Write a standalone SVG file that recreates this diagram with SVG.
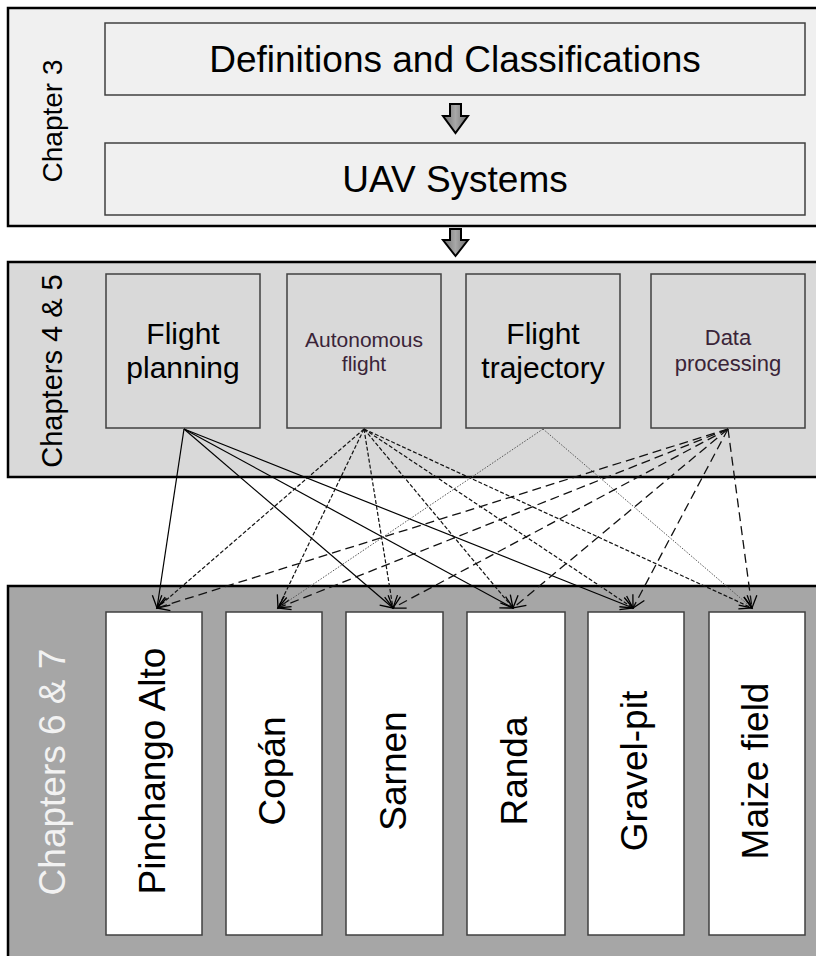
<svg xmlns="http://www.w3.org/2000/svg" width="816" height="956" viewBox="0 0 816 956">
<defs>
<linearGradient id="ag" x1="0" y1="0" x2="1" y2="0">
<stop offset="0" stop-color="#6e6e6e"/><stop offset="0.5" stop-color="#a8a8a8"/><stop offset="1" stop-color="#6e6e6e"/>
</linearGradient>
<marker id="ah" markerUnits="userSpaceOnUse" markerWidth="16" markerHeight="16" viewBox="0 0 16 16" refX="13" refY="8" orient="auto">
<path d="M1,1.5 L13,8 L1,14.5" fill="none" stroke="#000" stroke-width="1.3"/>
</marker>
</defs>
<style>
.panel{stroke:#000;stroke-width:2.5}
.box{stroke:#404040;stroke-width:1.5}
.t{font-family:"Liberation Sans",Arial,sans-serif;text-anchor:middle}
.c{fill:none;marker-end:url(#ah)}
.fp{stroke:#000;stroke-width:1.2}
.au{stroke:#111;stroke-width:1.2;stroke-dasharray:4 2}
.ft{stroke:#555;stroke-width:1;stroke-dasharray:1.5 1.5}
.dp{stroke:#111;stroke-width:1.3;stroke-dasharray:9 5}
.bar{fill:url(#ag);stroke:#000;stroke-width:2}
</style>
<rect width="816" height="956" fill="#fff"/>

<g id="chapter3">
<rect class="panel" x="8" y="8" width="830" height="218" fill="#f0f0f0"/>
<text class="t" font-size="28" transform="translate(62,121) rotate(-90)">Chapter 3</text>
</g>
<g id="chapters45">
<rect class="panel" x="8" y="262" width="830" height="215" fill="#d9d9d9"/>
<text class="t" font-size="29" transform="translate(62,371) rotate(-90)">Chapters 4 &amp; 5</text>
</g>
<g id="chapters67">
<rect class="panel" x="8" y="586" width="830" height="390" fill="#a6a6a6"/>
<text class="t" font-size="37" fill="#f2f2f2" transform="translate(65,772) rotate(-90)">Chapters 6 &amp; 7</text>
</g>

<g id="definitions">
<rect class="box" x="105" y="23" width="700" height="72" fill="#f0f0f0"/>
<text class="t" font-size="37" x="455" y="72">Definitions and Classifications</text>
</g>
<g id="uav-systems">
<rect class="box" x="105" y="143" width="700" height="72" fill="#f0f0f0"/>
<text class="t" font-size="37" x="455" y="192">UAV Systems</text>
</g>

<g id="flow-arrows">
<path class="bar" d="M450,104 H461 V116 H468 L455.5,133 L443,116 H450 Z"/>
<path class="bar" d="M450,229 H461 V240 H468 L455.5,256 L443,240 H450 Z"/>
</g>

<g id="flight-planning">
<rect class="box" x="106" y="274" width="154" height="154" fill="#d9d9d9"/>
<text class="t" font-size="30" x="183" y="344">Flight</text>
<text class="t" font-size="30" x="183" y="378">planning</text>
</g>
<g id="autonomous-flight">
<rect class="box" x="287" y="274" width="154" height="154" fill="#d9d9d9"/>
<text class="t" font-size="21" fill="#3a2438" x="364" y="347">Autonomous</text>
<text class="t" font-size="21" fill="#3a2438" x="364" y="371">flight</text>
</g>
<g id="flight-trajectory">
<rect class="box" x="466" y="274" width="154" height="154" fill="#d9d9d9"/>
<text class="t" font-size="30" x="543" y="344">Flight</text>
<text class="t" font-size="30" x="543" y="378">trajectory</text>
</g>
<g id="data-processing">
<rect class="box" x="651" y="274" width="154" height="154" fill="#d9d9d9"/>
<text class="t" font-size="22" fill="#3a2438" x="728" y="345">Data</text>
<text class="t" font-size="22" fill="#3a2438" x="728" y="371">processing</text>
</g>

<g id="connectors">
<line class="c fp" x1="184" y1="429" x2="157" y2="608"/>
<line class="c fp" x1="184" y1="429" x2="393" y2="608"/>
<line class="c fp" x1="184" y1="429" x2="513" y2="608"/>
<line class="c fp" x1="184" y1="429" x2="633" y2="608"/>

<line class="c au" x1="364" y1="429" x2="157" y2="608"/>
<line class="c au" x1="364" y1="429" x2="278" y2="608"/>
<line class="c au" x1="364" y1="429" x2="393" y2="608"/>
<line class="c au" x1="364" y1="429" x2="513" y2="608"/>
<line class="c au" x1="364" y1="429" x2="633" y2="608"/>
<line class="c au" x1="364" y1="429" x2="752" y2="608"/>

<line class="c ft" x1="543" y1="429" x2="278" y2="608"/>
<line class="c ft" x1="543" y1="429" x2="752" y2="608"/>

<line class="c dp" x1="728" y1="429" x2="157" y2="608"/>
<line class="c dp" x1="728" y1="429" x2="278" y2="608"/>
<line class="c dp" x1="728" y1="429" x2="393" y2="608"/>
<line class="c dp" x1="728" y1="429" x2="513" y2="608"/>
<line class="c dp" x1="728" y1="429" x2="633" y2="608"/>
<line class="c dp" x1="728" y1="429" x2="752" y2="608"/>
</g>

<g id="pinchango-alto">
<rect class="box" x="106" y="612" width="96" height="323" fill="#fff"/>
<text class="t" font-size="37" transform="translate(165,771) rotate(-90)">Pinchango Alto</text>
</g>
<g id="copan">
<rect class="box" x="226" y="612" width="96" height="323" fill="#fff"/>
<text class="t" font-size="37" transform="translate(285,771) rotate(-90)">Copán</text>
</g>
<g id="sarnen">
<rect class="box" x="346" y="612" width="97" height="323" fill="#fff"/>
<text class="t" font-size="37" transform="translate(405.5,771) rotate(-90)">Sarnen</text>
</g>
<g id="randa">
<rect class="box" x="467" y="612" width="98" height="323" fill="#fff"/>
<text class="t" font-size="37" transform="translate(527,771) rotate(-90)">Randa</text>
</g>
<g id="gravel-pit">
<rect class="box" x="588" y="612" width="96" height="323" fill="#fff"/>
<text class="t" font-size="37" transform="translate(647,771) rotate(-90)">Gravel-pit</text>
</g>
<g id="maize-field">
<rect class="box" x="709" y="612" width="96" height="323" fill="#fff"/>
<text class="t" font-size="37" transform="translate(768,771) rotate(-90)">Maize field</text>
</g>
</svg>
